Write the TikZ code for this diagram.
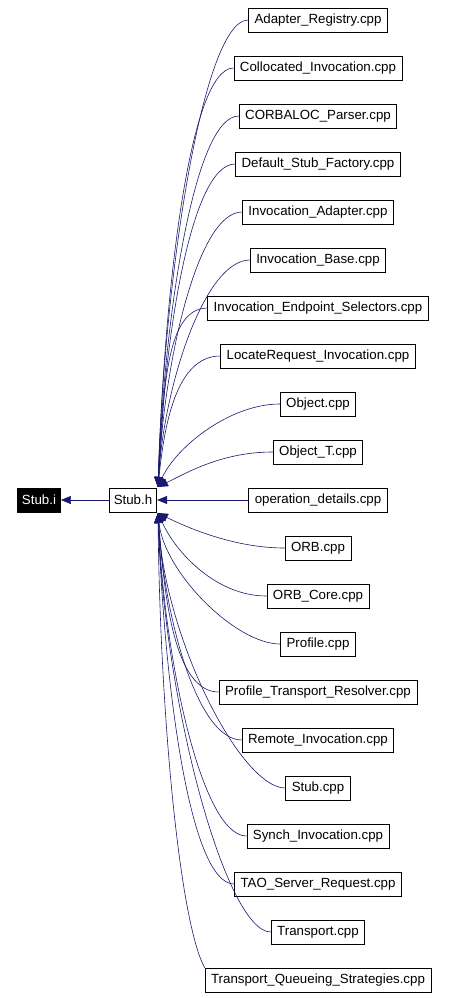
\documentclass[tikz,border=0pt]{standalone}
\usepackage{fontspec}
\setmainfont{Liberation Sans}
\usetikzlibrary{arrows.meta}
\definecolor{edgecol}{RGB}{25,25,112}
\tikzset{
  filebox/.style={draw=black, fill=white, line width=0.8pt, inner xsep=6pt, inner ysep=0pt,
    minimum height=24pt, font=\fontsize{13.3}{16}\selectfont, anchor=center},
  rootbox/.style={filebox, fill=black, text=white, inner xsep=4.5pt},
  edge/.style={draw=edgecol, line width=0.6pt, -{Triangle[length=10pt,width=8pt]}}
}
\begin{document}
\begin{tikzpicture}[x=1pt,y=-1pt]
\path[use as bounding box, fill=white] (0,0) rectangle (448,998);
\node[rootbox] (stubi) at (39,500) {Stub.i};
\node[filebox, inner xsep=4.5pt] (stubh) at (133,500) {Stub.h};
\foreach \k/\t in {0/Adapter\_Registry.cpp,1/Collocated\_Invocation.cpp,2/CORBALOC\_Parser.cpp,
  3/Default\_Stub\_Factory.cpp,4/Invocation\_Adapter.cpp,5/Invocation\_Base.cpp,
  6/Invocation\_Endpoint\_Selectors.cpp,7/LocateRequest\_Invocation.cpp,8/Object.cpp,
  9/Object\_T.cpp,10/operation\_details.cpp,11/ORB.cpp,12/ORB\_Core.cpp,13/Profile.cpp,
  14/Profile\_Transport\_Resolver.cpp,15/Remote\_Invocation.cpp,16/Stub.cpp,
  17/Synch\_Invocation.cpp,18/TAO\_Server\_Request.cpp,19/Transport.cpp,
  20/Transport\_Queueing\_Strategies.cpp}{
  \node[filebox] (n\k) at (318,20+48*\k) {\t};
}
\coordinate (upend) at (158,487);
\coordinate (lowend) at (158,513);
\draw[edge] (stubh) -- (stubi);
\draw[edge] (n10) -- (stubh);
\foreach \k in {0,...,9}{
  \pgfmathtruncatemacro\dd{10-\k}
  \pgfmathsetmacro\eb{\dd==1 ? 15 : (\dd==2 ? 40 : 0.45*(487-(20+48*\k)))}
  \pgfmathsetmacro\ea{\dd==1 ? 30 : (\dd==2 ? 18 : 6)}
  \pgfmathsetmacro\ec{\dd<=2 ? 50 : 45}
  \draw[edge] (n\k.west) .. controls +(-\ec,0) and +(\ea,-\eb) .. (upend);
}
\foreach \k in {11,...,19}{
  \pgfmathtruncatemacro\dd{\k-10}
  \pgfmathsetmacro\eb{\dd==1 ? 15 : (\dd==2 ? 40 : 0.45*((20+48*\k)-513))}
  \pgfmathsetmacro\ea{\dd==1 ? 30 : (\dd==2 ? 18 : 6)}
  \pgfmathsetmacro\ec{\dd<=2 ? 50 : 45}
  \draw[edge] (n\k.west) .. controls +(-\ec,0) and +(\ea,\eb) .. (lowend);
}
\draw[edge] (n20.north west) .. controls +(-25,-45) and +(2,200) .. (lowend);
\end{tikzpicture}
\end{document}
